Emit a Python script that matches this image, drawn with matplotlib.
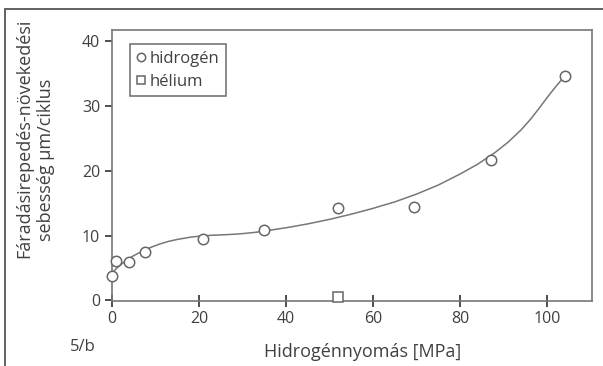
import matplotlib
matplotlib.use("Agg")
import matplotlib.pyplot as plt
from matplotlib.patches import Rectangle

# measured points
h2_pressure = [0, 1, 4, 7.5, 21, 35, 52, 69.5, 87, 104]
h2_rate = [3.8, 6.1, 5.9, 7.5, 9.4, 10.9, 14.2, 14.4, 21.7, 34.6]
he_pressure = [52]
he_rate = [0.5]

# fitted curve
fit_pressure = [0, 1, 2, 3, 4, 5, 7, 9, 11, 13, 15, 18, 20, 23, 25, 28, 30,
                33, 35, 40, 45, 50, 55, 60, 65, 70, 75, 80, 84, 88, 91, 94,
                96, 98, 100, 102, 104]
fit_rate = [4.2, 4.9, 5.5, 6.0, 6.5, 6.9, 7.6, 8.2, 8.7, 9.1, 9.4, 9.75, 9.9,
            10.05, 10.1, 10.2, 10.3, 10.5, 10.7, 11.2, 11.8, 12.5, 13.3, 14.2,
            15.2, 16.4, 17.8, 19.5, 21.0, 22.8, 24.4, 26.3, 27.8, 29.5, 31.3,
            33.0, 34.6]

xticks = [0, 20, 40, 60, 80, 100]
yticks = [0, 10, 20, 30, 40]

grey = "#404040"
plt.rcParams["font.family"] = ["Open Sans", "DejaVu Sans"]

fig = plt.figure(figsize=(6.03, 3.66), dpi=100)
fig.patches.append(Rectangle((0.009, -0.1), 1.1, 1.076, transform=fig.transFigure,
                             fill=False, edgecolor="#555555", linewidth=1.3))

ax = fig.add_axes([0.1857, 0.1776, 0.796, 0.740])
ax.plot(fit_pressure, fit_rate, color="#777777", linewidth=1.1, zorder=2)
ax.plot(h2_pressure, h2_rate, linestyle="none", marker="o", markersize=7.5,
        markerfacecolor="white", markeredgecolor="#666666", markeredgewidth=1.1,
        label="hidrogén", zorder=3, clip_on=False)
ax.plot(he_pressure, he_rate, linestyle="none", marker="s", markersize=6.5,
        markerfacecolor="white", markeredgecolor="#666666", markeredgewidth=1.1,
        label="hélium", zorder=3, clip_on=False)

ax.set_xlim(0, 110.3)
ax.set_ylim(-0.1, 41.7)
ax.set_xticks(xticks)
ax.set_yticks(yticks)
ax.tick_params(axis="both", colors=grey, labelsize=11.5, width=1.3, length=5)
ax.tick_params(axis="x", direction="inout", length=8, pad=3)
for s in ax.spines.values():
    s.set_color("#777777")
    s.set_linewidth(1.2)

# axis titles placed by hand, like the original
fig.text(24 / 603, 1 - 138 / 366, "Fáradásirepedés-növekedési", rotation=90,
         fontsize=13, color=grey, ha="center", va="center")
fig.text(46 / 603, 1 - 160 / 366, "sebesség µm/ciklus", rotation=90,
         fontsize=13, color=grey, ha="center", va="center")
fig.text(363 / 603, 1 - 352 / 366, "Hidrogénnyomás [MPa]", fontsize=13,
         color=grey, ha="center", va="center")
fig.text(83 / 603, 1 - 347 / 366, "5/b", fontsize=12, color=grey,
         ha="center", va="center")

leg = ax.legend(loc="upper left", bbox_to_anchor=(0.02, 0.978), fontsize=12,
                handlelength=0.5, handletextpad=0.3, borderpad=0.4,
                labelspacing=0.4, fancybox=False, framealpha=1, markerscale=0.8)
leg.get_frame().set_edgecolor("#777777")
leg.get_frame().set_linewidth(1.2)
for t in leg.get_texts():
    t.set_color(grey)

fig.savefig("out.png", dpi=100)
